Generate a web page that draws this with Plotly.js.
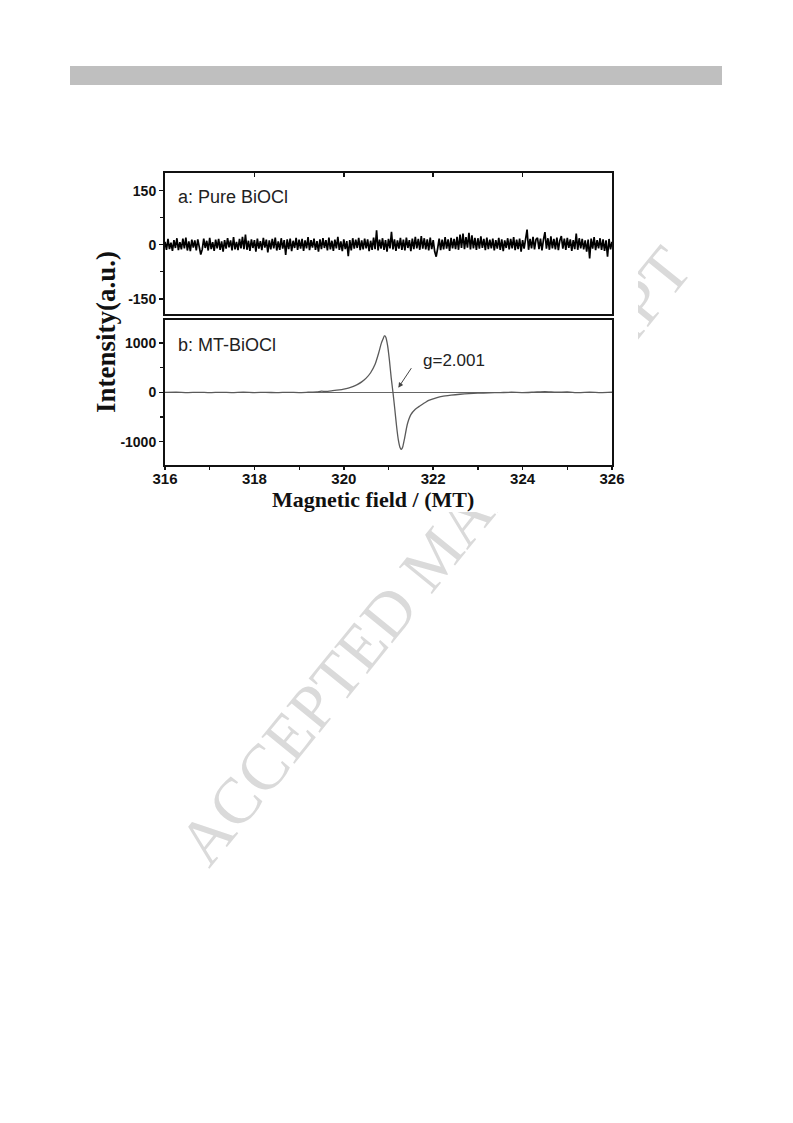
<!DOCTYPE html>
<html>
<head>
<meta charset="utf-8">
<script src="https://cdn.plot.ly/plotly-3.0.1.min.js"></script>
<style>
  html, body { margin: 0; padding: 0; background: #ffffff; }
  #wrap { position: relative; width: 793px; height: 1123px; overflow: hidden; }
  #wm {
    position: absolute; left: 435px; top: 556px;
    transform: translate(-50%, -50%) rotate(-51deg);
    font-family: "Liberation Serif", "Times New Roman", serif;
    font-size: 65px; line-height: 1; color: #dadada; white-space: nowrap;
    z-index: 0;
  }
  #plot { position: absolute; left: 0; top: 0; width: 793px; height: 1123px; z-index: 1; }
</style>
</head>
<body>
<div id="wrap">
  <div id="wm">ACCEPTED MANUSCRIPT</div>
  <div id="plot"></div>
</div>
<script>
// ---------- DATA ----------
// Panel a: Pure BiOCl, noise trace sampled evenly from 316 to 326 MT (301 samples)
const fieldStartA = 316;
const fieldEndA = 326;
const pureBiOCl = [
  8,-14,16,-12,6,-17,13,-9,18,-15,
  7,-13,17,-10,20,-16,9,-18,14,-8,
  12,-16,15,-10,-27,-13,17,-9,11,-16,
  19,-12,7,-17,14,-10,16,-14,9,-19,
  13,-11,18,-7,12,-16,21,-13,8,-15,
  16,-10,22,-12,28,-14,11,-17,15,-9,
  13,-19,17,-11,10,-15,19,-8,14,-21,
  12,-13,16,-10,20,-16,9,-14,18,-11,
  13,-28,15,-12,17,-18,11,-9,19,-14,
  14,-11,16,-17,12,-10,21,-15,13,-8,
  17,-14,10,-19,15,-12,18,-9,13,-16,
  20,-13,11,-17,14,-10,22,-14,9,-18,
  15,-12,10,-32,13,-16,18,-11,14,-9,
  19,-15,12,-13,17,-10,15,-18,11,-14,
  20,-12,40,-16,14,-11,18,-14,13,-19,
  16,-10,36,-13,15,-17,12,-11,19,-14,
  14,-16,20,-9,13,-18,17,-12,22,-10,
  16,-14,24,-11,18,-13,15,-16,20,-12,
  13,-19,-33,-10,17,-15,14,-13,21,-11,
  15,-17,19,-10,16,-12,22,-14,28,-9,
  31,-12,21,-8,33,-13,26,-10,19,-14,
  18,-11,23,-9,16,-15,20,-12,14,-10,
  17,-16,13,-11,19,-14,15,-18,12,-9,
  18,-13,16,-10,21,-15,14,-12,17,-19,
  13,-11,20,42,-14,16,-10,22,-13,15,
  19,-12,17,-16,14,35,-11,18,-14,23,
  -10,16,-13,20,-15,12,24,-11,17,-14,
  19,-9,15,-17,13,-12,31,-14,18,-10,
  16,-13,12,-19,14,-38,17,-11,21,-15,
  13,-10,18,-14,15,-17,12,-33,16,-13,
  8
];

// Panel b: MT-BiOCl EPR derivative signal
const fieldB = [316.0,316.25,316.5,316.75,317.0,317.25,317.5,317.75,318.0,318.25,318.5,318.75,319.0,319.2,319.4,319.5,319.6,319.75,319.9,320.0,
  320.1,320.2,320.3,320.4,320.5,320.6,320.7,320.78,320.84,320.88,320.91,320.94,320.98,321.02,321.06,321.1,321.14,321.18,321.22,321.26,
  321.29,321.32,321.36,321.42,321.5,321.6,321.7,321.8,321.9,322.0,322.2,322.4,322.6,322.8,323.0,323.25,323.5,323.75,324.0,324.25,
  324.5,324.75,325.0,325.25,325.5,325.75,326.0];
const mtBiOCl = [0,4,-3,3,-4,3,-3,4,-3,2,-4,3,-2,5,12,25,22,36,52,68,
  90,120,160,215,290,400,570,800,1000,1090,1155,1120,950,660,300,0,-330,-680,-960,-1120,
  -1157,-1100,-930,-650,-450,-340,-275,-215,-160,-130,-80,-55,-37,-25,-15,-8,-3,4,-2,6,
  16,5,9,-3,4,-3,5];

// Text
const panelALabel = "a: Pure BiOCl";
const panelBLabel = "b: MT-BiOCl";
const gLabel = "g=2.001";
const gArrowField = 321.22;
const gArrowValue = 97;
const yTitle = "Intensity(a.u.)";
const xTitle = "Magnetic field / (MT)";

// ---------- BUILD ----------
const W = 793, H = 1123;
const px = v => v / W;            // page x -> paper
const py = v => 1 - v / H;        // page y -> paper

const nA = pureBiOCl.length;
const fieldA = pureBiOCl.map((_, i) => fieldStartA + (fieldEndA - fieldStartA) * i / (nA - 1));

const tickFontY = {family: "Liberation Sans, Arial, sans-serif", size: 14, color: "#111", weight: "bold"};
const tickFontX = {family: "Liberation Sans, Arial, sans-serif", size: 15, color: "#111", weight: "bold"};
const xDom = [px(165), px(612)];

const traces = [
  {x: fieldA, y: pureBiOCl, xaxis: "x", yaxis: "y", type: "scatter", mode: "lines",
   line: {color: "#000", width: 1.7}, hoverinfo: "skip"},
  {x: fieldB, y: mtBiOCl, xaxis: "x2", yaxis: "y2", type: "scatter", mode: "lines",
   line: {color: "#5a5a5a", width: 1.3, shape: "spline", smoothing: 0.5}, hoverinfo: "skip"}
];

const axisLine = {showline: true, linecolor: "#111", linewidth: 2, mirror: true, showgrid: false};

const layout = {
  width: W, height: H,
  margin: {l: 0, r: 0, t: 0, b: 0},
  paper_bgcolor: "rgba(0,0,0,0)",
  plot_bgcolor: "#fff",
  showlegend: false,
  xaxis: Object.assign({}, axisLine, {
    domain: xDom, anchor: "y", range: [316, 326], side: "top",
    showticklabels: false, ticks: "inside", ticklen: 4, tickwidth: 1.5, tickcolor: "#111",
    dtick: 2, tick0: 316, zeroline: false
  }),
  yaxis: Object.assign({}, axisLine, {
    domain: [py(314), py(173.3)], anchor: "x", range: [-192, 198],
    tickvals: [-150, 0, 150], ticktext: ["-150", "0", "150"],
    ticks: "outside", ticklen: 4, tickwidth: 1.5, tickcolor: "#111",
    minor: {tickvals: [-75, 75], ticks: "outside", ticklen: 3, tickwidth: 1.2, tickcolor: "#111"},
    tickfont: tickFontY, zeroline: false
  }),
  xaxis2: Object.assign({}, axisLine, {
    domain: xDom, anchor: "y2", range: [316, 326],
    dtick: 2, tick0: 316, ticks: "outside", ticklen: 3, tickwidth: 1.5, tickcolor: "#111",
    minor: {dtick: 1, ticks: "outside", ticklen: 3, tickwidth: 1.2, tickcolor: "#111"},
    ticklabelstandoff: -4,
    tickfont: tickFontX, zeroline: false
  }),
  yaxis2: Object.assign({}, axisLine, {
    domain: [py(465), py(320)], anchor: "x2", range: [-1472, 1470],
    tickvals: [-1000, 0, 1000], ticktext: ["-1000", "0", "1000"],
    ticks: "outside", ticklen: 4, tickwidth: 1.5, tickcolor: "#111",
    minor: {tickvals: [-500, 500], ticks: "outside", ticklen: 3, tickwidth: 1.2, tickcolor: "#111"},
    tickfont: tickFontY, zeroline: true, zerolinecolor: "#666", zerolinewidth: 1
  }),
  shapes: [
    {type: "rect", xref: "paper", yref: "paper", x0: px(70), x1: px(722), y0: py(85), y1: py(66),
     fillcolor: "#bfbfbf", line: {width: 0}, layer: "below"},
    {type: "rect", xref: "paper", yref: "paper", x0: px(98), x1: px(638), y0: py(512), y1: py(158),
     fillcolor: "#ffffff", line: {width: 0}, layer: "below"}
  ],
  annotations: [
    {text: panelALabel, xref: "paper", yref: "paper", x: px(176), y: py(197), xanchor: "left", yanchor: "middle",
     showarrow: false, font: {family: "Liberation Sans, Arial, sans-serif", size: 18, color: "#222"}},
    {text: panelBLabel, xref: "paper", yref: "paper", x: px(176), y: py(344.5), xanchor: "left", yanchor: "middle",
     showarrow: false, font: {family: "Liberation Sans, Arial, sans-serif", size: 18, color: "#222"}},
    {text: gLabel, xref: "paper", yref: "paper", x: px(421), y: py(361), xanchor: "left", yanchor: "middle",
     showarrow: false, font: {family: "Liberation Sans, Arial, sans-serif", size: 17, color: "#222"}},
    {text: "", xref: "x2", yref: "y2", x: gArrowField, y: gArrowValue, showarrow: true,
     ax: 14, ay: -21, arrowhead: 2, arrowsize: 1, arrowwidth: 1, arrowcolor: "#444"},
    {text: "<b>" + yTitle + "</b>", xref: "paper", yref: "paper", x: px(106), y: py(332),
     xanchor: "center", yanchor: "middle", textangle: -90, showarrow: false,
     font: {family: "Liberation Serif, Times New Roman, serif", size: 27, color: "#111"}},
    {text: "<b>" + xTitle + "</b>", xref: "paper", yref: "paper", x: px(373), y: py(500),
     xanchor: "center", yanchor: "middle", showarrow: false,
     font: {family: "Liberation Serif, Times New Roman, serif", size: 22, color: "#111"}}
  ]
};

Plotly.newPlot("plot", traces, layout, {staticPlot: true, displayModeBar: false});
</script>
</body>
</html>
